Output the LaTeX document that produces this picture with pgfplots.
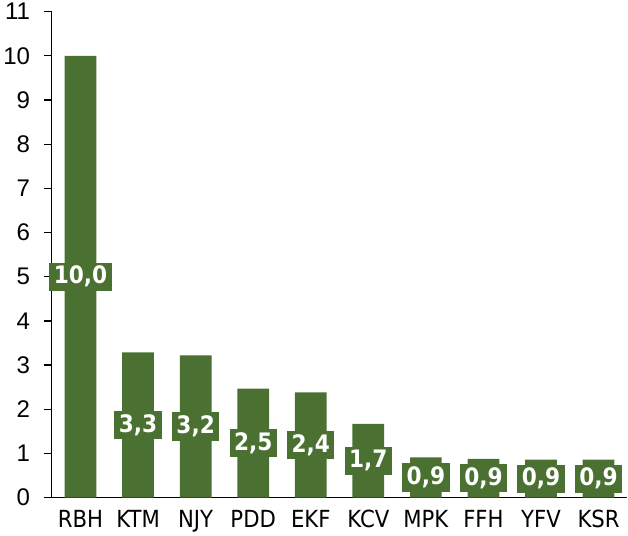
\documentclass[border=0pt]{standalone}
\usepackage{fontspec}
\setmainfont{Liberation Sans}
\newfontfamily\catfont[FakeStretch=0.9]{DejaVu Sans}
\newfontfamily\labfont[FakeStretch=0.9]{DejaVu Sans Bold}
\usepackage{pgfplots}
\usepackage{pgfplotstable}
\pgfplotsset{compat=1.18}
\definecolor{barcol}{HTML}{4A7131}

\pgfplotstableread{
x y
0 10.0
1 3.29
2 3.22
3 2.47
4 2.38
5 1.67
6 0.91
7 0.88
8 0.86
9 0.86
}\bars

\pgfplotstableread{
x h lab
0 5.00 10,0
1 1.645 3,3
2 1.61 3,2
3 1.235 2,5
4 1.19 2,4
5 0.835 1,7
6 0.455 0,9
7 0.44 0,9
8 0.43 0,9
9 0.43 0,9
}\labs

\begin{document}
\begin{tikzpicture}
\begin{axis}[
  scale only axis,
  width=572bp, height=483bp,
  xmin=-0.5, xmax=9.5, ymin=0, ymax=11,
  axis x line*=bottom, axis y line*=left,
  axis line style={line width=1.3bp, black},
  xtick={0,...,9},
  xticklabels={RBH,KTM,NJY,PDD,EKF,KCV,MPK,FFH,YFV,KSR},
  x tick label style={font=\catfont\fontsize{23.5}{23.5}\selectfont, yshift=-1bp},
  major x tick style={draw=none},
  ytick={0,...,11},
  y tick label style={font=\fontsize{24}{24}\selectfont, xshift=-10bp},
  /pgf/number format/assume math mode=true,
  tick align=outside,
  major tick length=8bp,
  major y tick style={line width=1.3bp, black},
  clip=false,
]
\addplot[ybar, bar width=31.5bp, fill=barcol, draw=none] table[x=x,y=y] {\bars};
\addplot[draw=none, mark=none, nodes near coords, point meta=explicit symbolic,
  every node near coord/.style={anchor=center, fill=barcol, text=white,
    font=\labfont\fontsize{24}{24}\selectfont, inner xsep=4.5bp, inner ysep=0pt,
    minimum height=28bp}]
  table[x=x,y=h,meta=lab] {\labs};
\end{axis}
\end{tikzpicture}
\end{document}
